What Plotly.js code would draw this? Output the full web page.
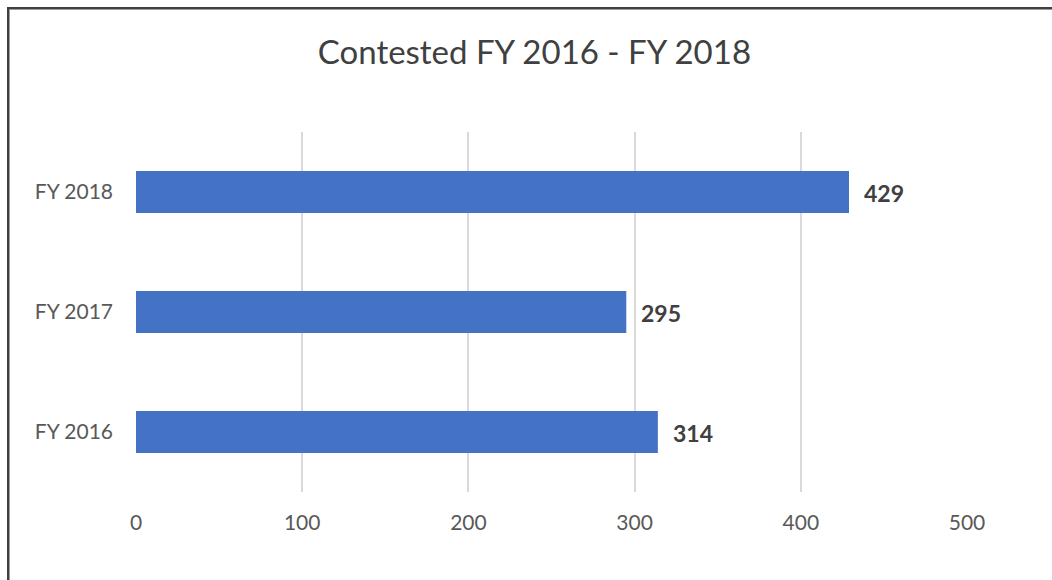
<!DOCTYPE html>
<html><head><meta charset="utf-8">
<script src="https://cdn.plot.ly/plotly-3.0.1.min.js"></script>
<style>
html,body{margin:0;padding:0;background:#fff;}
#wrap{position:relative;width:1052px;height:580px;}
#chart{width:1052px;height:580px;}
#frame{position:absolute;left:7px;top:7px;right:0;bottom:0;border-left:2px solid #404040;border-top:2px solid #404040;box-shadow:inset 1px 1px 0 #9a9a9a;pointer-events:none;}
</style>
</head><body>
<div id="wrap"><div id="chart"></div><div id="frame"></div></div>
<script>
const categories = ["FY 2016", "FY 2017", "FY 2018"];
const values = [314, 295, 429];
const xTicks = [0, 100, 200, 300, 400, 500];

const trace = {
  type: "bar", orientation: "h",
  y: categories, x: values,
  marker: {color: "#4472C4"},
  hoverinfo: "none"
};
const annotations = categories.map((c, i) => ({
  x: values[i], y: c, xref: "x", yref: "y",
  text: "<b>" + values[i] + "</b>", showarrow: false,
  xanchor: "left", xshift: 13, yshift: -1,
  font: {family: "Lato, Calibri, sans-serif", size: 23, color: "#404040"}
}));
const layout = {
  width: 1052, height: 580,
  margin: {l: 136, r: 85, t: 132, b: 88},
  paper_bgcolor: "#fff", plot_bgcolor: "#fff",
  bargap: 0.65,
  showlegend: false,
  title: {text: "Contested FY 2016 - FY 2018", x: 0.508, xanchor: "center", y: 0.91, yanchor: "middle",
    font: {family: "Lato, Calibri, sans-serif", size: 33, color: "#404040"}},
  xaxis: {range: [0, 500], tickvals: xTicks, ticktext: xTicks.map(String), showgrid: true,
    gridcolor: "#d9d9d9", gridwidth: 2, zeroline: false, showline: false, ticks: "", ticklen: 0,
    ticklabelstandoff: 16,
    tickfont: {family: "Lato, Calibri, sans-serif", size: 21, color: "#595959"}, fixedrange: true},
  yaxis: {type: "category", showgrid: false, zeroline: false, showline: false, ticks: "",
    ticklabelstandoff: 22,
    tickfont: {family: "Lato, Calibri, sans-serif", size: 21, color: "#595959"}},
  annotations: annotations
};
Plotly.newPlot("chart", [trace], layout, {displayModeBar: false, staticPlot: true});
</script>
</body></html>
